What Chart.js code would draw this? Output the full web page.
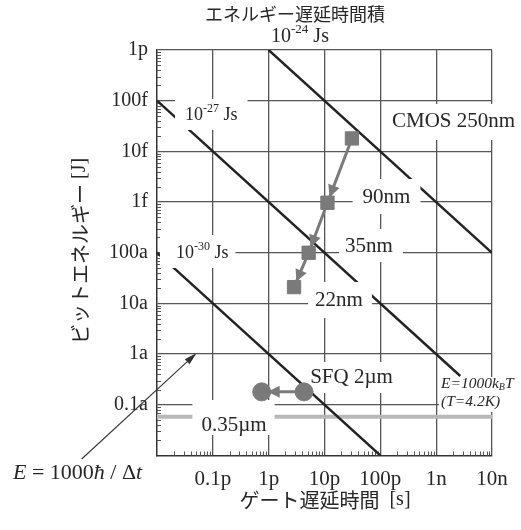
<!DOCTYPE html>
<html>
<head>
<meta charset="utf-8">
<script src="https://cdn.jsdelivr.net/npm/chart.js@4.4.1/dist/chart.umd.min.js"></script>
<style>
  html, body { margin: 0; padding: 0; background: #fff; }
  #wrap { width: 521px; height: 530px; }
</style>
</head>
<body>
<div id="wrap"><canvas id="chart"></canvas></div>
<script>
// Axis ticks (log scales, seconds and joules)
const xTickValues = [1e-13, 1e-12, 1e-11, 1e-10, 1e-9, 1e-8];
const xTickLabels = ['0.1p', '1p', '10p', '100p', '1n', '10n'];
const yTickValues = [1e-12, 1e-13, 1e-14, 1e-15, 1e-16, 1e-17, 1e-18, 1e-19];
const yTickLabels = ['1p', '100f', '10f', '1f', '100a', '10a', '1a', '0.1a'];

// CMOS generations: gate delay [s] vs bit energy [J]
const cmosNodes = ['250nm', '90nm', '35nm', '22nm'];
const cmosDelay = [31e-12, 11.3e-12, 5.2e-12, 2.85e-12];
const cmosEnergy = [18e-15, 0.97e-15, 100e-18, 21e-18];

// SFQ circuits
const sfqNodes = ['2µm', '0.35µm'];
const sfqDelay = [4.3e-12, 0.75e-12];
const sfqEnergy = [0.18e-18, 0.18e-18];

// constant energy-delay product lines (end points)
const edp24Delay = [1e-12, 1e-8];
const edp24Energy = [1e-12, 1e-16];
const edp27Delay = [1e-14, 2.7e-9];
const edp27Energy = [1e-13, 3.7e-19];
const edp30Delay = [1e-14, 1e-10];
const edp30Energy = [1e-16, 1e-20];

// E = 1000 kB T at T = 4.2 K
const thermalDelay = [1e-14, 1e-8];
const thermalEnergy = [5.8e-20, 5.8e-20];

// E = 1000 hbar / dt pointer (log10 of delay, log10 of energy)
const hbarArrowFrom = [-15.349, -20.069];
const hbarArrowTo = [-13.289, -17.977];

const SERIF = "'Liberation Serif', 'DejaVu Serif', serif";
const JP = "'Noto Sans CJK JP', sans-serif";
const f = (size, style = '') => `${style} ${size}px ${SERIF}`.trim();
const fj = (size) => `${size}px ${JP}`;
const TEXT = '#262626';

// text notes placed in log10 data coordinates; box = white gap [left, top, right, bottom]
const notes = [
  { parts: [['エネルギー遅延時間積', fj(18)]], at: [-11.528, -11.29], align: 'center' },
  { parts: [['10', f(20)], ['-24', f(13), -7], [' Js', f(20)]], at: [-11.439, -11.738], align: 'center' },
  { parts: [['10', f(18)], ['-27', f(12), -6], [' Js', f(18)]], at: [-13.498, -13.282], align: 'left', box: [10, 16, 10, 15] },
  { parts: [['10', f(18)], ['-30', f(12), -6], [' Js', f(18)]], at: [-13.66, -16.005], align: 'left', box: [16, 18, 7, 15] },
  { parts: [['CMOS 250nm', f(21)]], at: [-8.689, -13.42], align: 'center', box: [4, 18, 3, 18] },
  { parts: [['90nm', f(21)]], at: [-9.889, -14.9], align: 'center', box: [10, 18, 10, 17] },
  { parts: [['35nm', f(21)]], at: [-10.203, -15.886], align: 'center', box: [6, 18, 10, 15] },
  { parts: [['22nm', f(21)]], at: [-10.74, -16.932], align: 'center', box: [7, 18, 9, 18] },
  { parts: [['SFQ 2µm', f(21)]], at: [-10.516, -18.451], align: 'center', box: [4, 15, 5, 16] },
  { parts: [['0.35µm', f(21)]], at: [-12.621, -19.398], align: 'center', box: [9, 25, 8, 10] },
  { parts: [['E=1000k', f(15.5, 'italic')], ['B', f(10, 'italic'), 3], ['T', f(15.5, 'italic')]], at: [-8.913, -18.589], align: 'left', box: [2, 7, 3, 28] },
  { parts: [['(T=4.2K)', f(15.5, 'italic')]], at: [-8.913, -18.938], align: 'left' },
  { parts: [['E', f(22, 'italic')], [' = 1000', f(22)], ['ħ', f(22, 'italic')], [' / Δ', f(22)], ['t', f(22, 'italic')]], at: [-16.579, -20.345], align: 'left' },
  { parts: [['ゲート遅延時間', fj(20)], ['  [s]', f(20)]], at: [-10.991, -20.878], align: 'center' },
  { parts: [['ビットエネルギー', fj(20)], [' [J]', f(20)]], at: [-15.379, -15.965], align: 'center', rotate: true }
];

const xy = (xs, ys) => xs.map((x, i) => ({ x, y: ys[i] }));
const pos = (chart, at) => ({
  x: chart.scales.x.getPixelForValue(Math.pow(10, at[0])),
  y: chart.scales.y.getPixelForValue(Math.pow(10, at[1]))
});

function measure(ctx, note) {
  let w = 0;
  note.parts.forEach((p) => {
    ctx.font = p[1];
    w += ctx.measureText(p[0]).width;
  });
  return w;
}

function drawNote(ctx, chart, note) {
  const p = pos(chart, note.at);
  const w = measure(ctx, note);
  ctx.save();
  ctx.translate(p.x, p.y);
  if (note.rotate) ctx.rotate(-Math.PI / 2);
  let cx = note.align === 'center' ? -w / 2 : 0;
  ctx.fillStyle = TEXT;
  ctx.textAlign = 'left';
  ctx.textBaseline = 'middle';
  note.parts.forEach((part) => {
    ctx.font = part[1];
    ctx.fillText(part[0], cx, part[2] || 0);
    cx += ctx.measureText(part[0]).width;
  });
  ctx.restore();
}

function drawGapBoxes(chart) {
  const ctx = chart.ctx;
  ctx.save();
  ctx.fillStyle = '#fff';
  notes.filter((n) => n.box).forEach((n) => {
    const p = pos(chart, n.at);
    const w = measure(ctx, n);
    const left = n.align === 'center' ? p.x - w / 2 : p.x;
    const [bl, bt, br, bb] = n.box;
    ctx.fillRect(left - bl, p.y - bt, w + bl + br, bt + bb);
  });
  ctx.restore();
}

function arrowHead(ctx, tipX, tipY, ux, uy, len, half) {
  const bx = tipX - ux * len;
  const by = tipY - uy * len;
  ctx.beginPath();
  ctx.moveTo(tipX, tipY);
  ctx.lineTo(bx - uy * half, by + ux * half);
  ctx.lineTo(bx + uy * half, by - ux * half);
  ctx.closePath();
  ctx.fill();
}

const decorations = {
  id: 'decorations',
  beforeDatasetsDraw(chart) {
    // minor log ticks on left and bottom axes
    const { ctx, chartArea: a, scales: { x, y } } = chart;
    ctx.save();
    ctx.strokeStyle = '#555';
    ctx.lineWidth = 1;
    ctx.beginPath();
    for (let e = -14; e < -8; e++) {
      for (let m = 2; m < 10; m++) {
        const px = Math.round(x.getPixelForValue(m * Math.pow(10, e))) + 0.5;
        ctx.moveTo(px, a.bottom);
        ctx.lineTo(px, a.bottom - 4);
      }
    }
    for (let e = -20; e < -12; e++) {
      for (let m = 2; m < 10; m++) {
        const py = Math.round(y.getPixelForValue(m * Math.pow(10, e))) + 0.5;
        ctx.moveTo(a.left, py);
        ctx.lineTo(a.left + 4, py);
      }
    }
    ctx.stroke();
    ctx.restore();
  },
  beforeDatasetDraw(chart, args) {
    if (chart.data.datasets[args.index].gapsBefore) drawGapBoxes(chart);
  },
  afterDatasetDraw(chart, args) {
    const ds = chart.data.datasets[args.index];
    if (!ds.arrows) return;
    const ctx = chart.ctx;
    const pts = args.meta.data;
    ctx.save();
    ctx.fillStyle = ds.borderColor;
    for (let i = 0; i < pts.length - 1; i++) {
      const dx = pts[i + 1].x - pts[i].x;
      const dy = pts[i + 1].y - pts[i].y;
      const d = Math.hypot(dx, dy);
      const ux = dx / d, uy = dy / d;
      arrowHead(ctx, pts[i + 1].x - ux * 6, pts[i + 1].y - uy * 6, ux, uy, 12, 6);
    }
    ctx.restore();
  },
  afterDraw(chart) {
    const ctx = chart.ctx;
    // pointer for E = 1000 hbar / dt
    const a = pos(chart, hbarArrowFrom);
    const b = pos(chart, hbarArrowTo);
    const d = Math.hypot(b.x - a.x, b.y - a.y);
    const ux = (b.x - a.x) / d, uy = (b.y - a.y) / d;
    ctx.save();
    ctx.strokeStyle = '#333';
    ctx.fillStyle = '#333';
    ctx.lineWidth = 1.1;
    ctx.beginPath();
    ctx.moveTo(a.x, a.y);
    ctx.lineTo(b.x - ux * 8, b.y - uy * 8);
    ctx.stroke();
    arrowHead(ctx, b.x, b.y, ux, uy, 13, 3.5);
    ctx.restore();
    notes.forEach((n) => drawNote(ctx, chart, n));
  }
};

const guide = (data, color, width) => ({
  data,
  showLine: true,
  borderColor: color,
  borderWidth: width,
  pointRadius: 0,
  order: 3
});

new Chart(document.getElementById('chart'), {
  type: 'scatter',
  data: {
    datasets: [
      guide(xy(edp24Delay, edp24Energy), '#222', 2.4),
      guide(xy(edp27Delay, edp27Energy), '#222', 2.4),
      guide(xy(edp30Delay, edp30Energy), '#222', 2.4),
      guide(xy(thermalDelay, thermalEnergy), '#b8b8b8', 4),
      {
        label: 'CMOS',
        data: xy(cmosDelay, cmosEnergy),
        showLine: true,
        borderColor: '#7a7a7a',
        backgroundColor: '#7a7a7a',
        borderWidth: 3,
        pointStyle: 'rect',
        pointRadius: 9.4,
        pointBorderWidth: 1,
        order: 2,
        gapsBefore: true,
        arrows: true
      },
      {
        label: 'SFQ',
        data: xy(sfqDelay, sfqEnergy),
        showLine: true,
        borderColor: '#7a7a7a',
        backgroundColor: '#7a7a7a',
        borderWidth: 3,
        pointStyle: 'circle',
        pointRadius: 9,
        pointBorderWidth: 1,
        order: 1,
        arrows: true
      }
    ]
  },
  options: {
    responsive: true,
    maintainAspectRatio: false,
    animation: false,
    devicePixelRatio: 1,
    layout: { padding: { top: 50, right: 29, left: 0, bottom: 0 } },
    plugins: { legend: { display: false }, tooltip: { enabled: false } },
    scales: {
      x: {
        type: 'logarithmic',
        min: 1e-14,
        max: 1e-8,
        afterBuildTicks: (s) => { s.ticks = xTickValues.map((v) => ({ value: v })); },
        afterFit: (s) => { s.height = 74.5; },
        grid: { color: '#555', lineWidth: 1.3, drawTicks: false },
        border: { color: '#333', width: 1.5 },
        ticks: {
          autoSkip: false,
          maxRotation: 0,
          padding: 11,
          color: TEXT,
          font: { family: SERIF, size: 21 },
          callback: (v, i) => xTickLabels[i]
        }
      },
      y: {
        type: 'logarithmic',
        min: 1e-20,
        max: 1e-12,
        afterBuildTicks: (s) => { s.ticks = yTickValues.map((v) => ({ value: v })); },
        afterFit: (s) => { s.width = 157; },
        grid: { color: '#555', lineWidth: 1.3, drawTicks: false },
        border: { color: '#333', width: 1.5 },
        ticks: {
          autoSkip: false,
          padding: 9,
          color: TEXT,
          font: { family: SERIF, size: 20 },
          callback: (v, i) => yTickLabels[i]
        }
      }
    }
  },
  plugins: [decorations]
});
</script>
</body>
</html>
